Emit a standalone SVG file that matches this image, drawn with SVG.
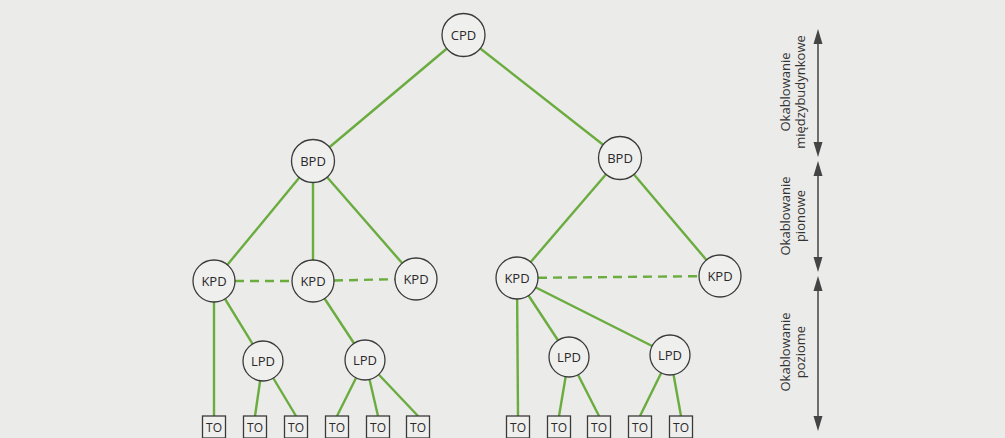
<svg xmlns="http://www.w3.org/2000/svg" width="1005" height="438" viewBox="0 0 1005 438">
<style>
.bg{fill:#ebebea}
.link{stroke:#6aac3e;stroke-width:2.4;fill:none;stroke-linecap:butt}
.dash{stroke-dasharray:9 6}
.node circle{fill:#efefee;stroke:#3a3a3a;stroke-width:1.3}
.node rect{fill:#efefee;stroke:#3a3a3a;stroke-width:1.3}
.lbl{font-family:"Open Sans","Liberation Sans",sans-serif;font-size:13px;fill:#2a2a2a;text-anchor:middle}
.to{font-family:"Open Sans","Liberation Sans",sans-serif;font-size:12px;fill:#2a2a2a;text-anchor:middle}
.axis{stroke:#444;stroke-width:1.5}
.head{fill:#444}
.side{font-family:"Open Sans","Liberation Sans",sans-serif;font-size:13px;fill:#333;text-anchor:middle}
</style>
<rect class="bg" x="0" y="0" width="1005" height="438"/>

<g id="connectors">
  <line class="link" x1="463" y1="35" x2="313" y2="161"/>
  <line class="link" x1="463" y1="35" x2="620" y2="158"/>
  <line class="link" x1="313" y1="161" x2="214" y2="281"/>
  <line class="link" x1="313" y1="161" x2="313" y2="281"/>
  <line class="link" x1="313" y1="161" x2="416" y2="279"/>
  <line class="link" x1="620" y1="158" x2="517" y2="278"/>
  <line class="link" x1="620" y1="158" x2="720" y2="276"/>
  <line class="link dash" x1="235" y1="281" x2="292" y2="281"/>
  <line class="link dash" x1="334" y1="280.5" x2="395" y2="279.2"/>
  <line class="link dash" x1="538" y1="277.8" x2="699" y2="276.2"/>
  <line class="link" x1="214" y1="281" x2="214" y2="416"/>
  <line class="link" x1="214" y1="281" x2="263" y2="361"/>
  <line class="link" x1="313" y1="281" x2="365" y2="360"/>
  <line class="link" x1="263" y1="361" x2="255" y2="416"/>
  <line class="link" x1="263" y1="361" x2="296" y2="416"/>
  <line class="link" x1="365" y1="360" x2="337" y2="416"/>
  <line class="link" x1="365" y1="360" x2="378" y2="416"/>
  <line class="link" x1="365" y1="360" x2="418" y2="416"/>
  <line class="link" x1="517" y1="278" x2="518" y2="416"/>
  <line class="link" x1="517" y1="278" x2="569" y2="357"/>
  <line class="link" x1="517" y1="278" x2="670" y2="355"/>
  <line class="link" x1="569" y1="357" x2="559" y2="416"/>
  <line class="link" x1="569" y1="357" x2="599" y2="416"/>
  <line class="link" x1="670" y1="355" x2="640" y2="416"/>
  <line class="link" x1="670" y1="355" x2="681" y2="416"/>
</g>

<g id="cpd" class="node"><circle cx="463.5" cy="35" r="21.5"/><text class="lbl" x="463.5" y="39.5">CPD</text></g>
<g id="bpd1" class="node"><circle cx="313" cy="161" r="21.5"/><text class="lbl" x="313" y="165.5">BPD</text></g>
<g id="bpd2" class="node"><circle cx="620" cy="158" r="21.5"/><text class="lbl" x="620" y="162.5">BPD</text></g>
<g id="kpd1" class="node"><circle cx="214" cy="281" r="21"/><text class="lbl" x="214" y="285.5">KPD</text></g>
<g id="kpd2" class="node"><circle cx="313" cy="281" r="21"/><text class="lbl" x="313" y="285.5">KPD</text></g>
<g id="kpd3" class="node"><circle cx="416" cy="279" r="21"/><text class="lbl" x="416" y="283.5">KPD</text></g>
<g id="kpd4" class="node"><circle cx="517" cy="278" r="21"/><text class="lbl" x="517" y="282.5">KPD</text></g>
<g id="kpd5" class="node"><circle cx="720" cy="276" r="21"/><text class="lbl" x="720" y="280.5">KPD</text></g>
<g id="lpd1" class="node"><circle cx="263" cy="361" r="20"/><text class="lbl" x="263" y="365.5">LPD</text></g>
<g id="lpd2" class="node"><circle cx="365" cy="360" r="20"/><text class="lbl" x="365" y="364.5">LPD</text></g>
<g id="lpd3" class="node"><circle cx="569" cy="357" r="20"/><text class="lbl" x="569" y="361.5">LPD</text></g>
<g id="lpd4" class="node"><circle cx="670" cy="355" r="20"/><text class="lbl" x="670" y="359.5">LPD</text></g>

<g id="to1" class="node"><rect x="202.5" y="416" width="23" height="22"/><text class="to" x="214" y="431.5">TO</text></g>
<g id="to2" class="node"><rect x="243.5" y="416" width="23" height="22"/><text class="to" x="255" y="431.5">TO</text></g>
<g id="to3" class="node"><rect x="284.5" y="416" width="23" height="22"/><text class="to" x="296" y="431.5">TO</text></g>
<g id="to4" class="node"><rect x="325.5" y="416" width="23" height="22"/><text class="to" x="337" y="431.5">TO</text></g>
<g id="to5" class="node"><rect x="366.5" y="416" width="23" height="22"/><text class="to" x="378" y="431.5">TO</text></g>
<g id="to6" class="node"><rect x="406.5" y="416" width="23" height="22"/><text class="to" x="418" y="431.5">TO</text></g>
<g id="to7" class="node"><rect x="506.5" y="416" width="23" height="22"/><text class="to" x="518" y="431.5">TO</text></g>
<g id="to8" class="node"><rect x="547.5" y="416" width="23" height="22"/><text class="to" x="559" y="431.5">TO</text></g>
<g id="to9" class="node"><rect x="587.5" y="416" width="23" height="22"/><text class="to" x="599" y="431.5">TO</text></g>
<g id="to10" class="node"><rect x="628.5" y="416" width="23" height="22"/><text class="to" x="640" y="431.5">TO</text></g>
<g id="to11" class="node"><rect x="669.5" y="416" width="23" height="22"/><text class="to" x="681" y="431.5">TO</text></g>

<g id="scale">
  <line class="axis" x1="818" y1="40" x2="818" y2="146"/>
  <polygon class="head" points="818,29 813.5,44 822.5,44"/>
  <polygon class="head" points="818,157 813.5,142 822.5,142"/>
  <line class="axis" x1="818" y1="172" x2="818" y2="261"/>
  <polygon class="head" points="818,161 813.5,176 822.5,176"/>
  <polygon class="head" points="818,272 813.5,257 822.5,257"/>
  <line class="axis" x1="818" y1="287" x2="818" y2="420"/>
  <polygon class="head" points="818,276 813.5,291 822.5,291"/>
  <polygon class="head" points="818,431 813.5,416 822.5,416"/>
  <text class="side" transform="translate(790,92) rotate(-90)">Okablowanie</text>
  <text class="side" transform="translate(805,92) rotate(-90)">międzybudynkowe</text>
  <text class="side" transform="translate(790,216) rotate(-90)">Okablowanie</text>
  <text class="side" transform="translate(805,216) rotate(-90)">pionowe</text>
  <text class="side" transform="translate(790,352) rotate(-90)">Okablowanie</text>
  <text class="side" transform="translate(805,352) rotate(-90)">poziome</text>
</g>
</svg>
